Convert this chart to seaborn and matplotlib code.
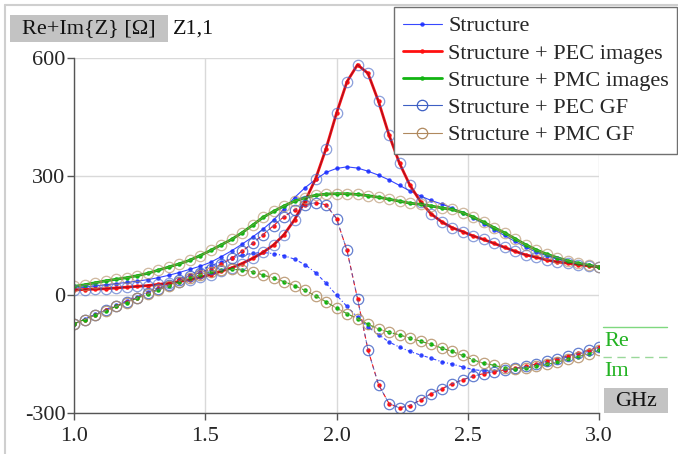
"""
Re+Im{Z} [Ω] Z1,1 — Structure vs images vs Green's function
"""

import matplotlib
matplotlib.use("Agg")
import matplotlib.pyplot as plt
from matplotlib.patches import Rectangle
from matplotlib.lines import Line2D
from matplotlib.ticker import FormatStrFormatter
import seaborn as sns

sns.set_style("white")
plt.rcParams["font.family"] = ["Liberation Serif", "DejaVu Serif"]
plt.rcParams["axes.unicode_minus"] = False

# ---- data (GHz, Ohm) ----
freq = [1.00, 1.04, 1.08, 1.12, 1.16, 1.20, 1.24, 1.28, 1.32, 1.36,
        1.40, 1.44, 1.48, 1.52, 1.56, 1.60, 1.64, 1.68, 1.72, 1.76,
        1.80, 1.84, 1.88, 1.92, 1.96, 2.00, 2.04, 2.08, 2.12, 2.16,
        2.20, 2.24, 2.28, 2.32, 2.36, 2.40, 2.44, 2.48, 2.52, 2.56,
        2.60, 2.64, 2.68, 2.72, 2.76, 2.80, 2.84, 2.88, 2.92, 2.96, 3.00]

struct_re = [16, 19, 22, 25, 28, 31, 34, 38, 43, 49,
             56, 64, 72, 82, 96, 111, 128, 146, 166, 189,
             217, 246, 271, 292, 310, 320, 324, 321, 313, 303,
             291, 277, 263, 250, 239, 230, 220, 208, 194, 180,
             165, 150, 135, 121, 108, 99, 90, 83, 78, 74, 70]
struct_im = [-74, -62, -50, -38, -27, -16, -5, 6, 17, 28,
             40, 51, 62, 73, 83, 92, 100, 105, 107, 104,
             99, 90, 76, 56, 29, -1, -30, -57, -82, -101,
             -120, -133, -144, -153, -161, -170, -176, -183, -190, -193,
             -193, -191, -188, -184, -179, -173, -166, -158, -151, -144, -137]

pec_re = [12, 13, 14, 15, 17, 19, 21, 23, 26, 29,
          33, 38, 44, 51, 59, 68, 79, 92, 107, 126,
          152, 190, 237, 293, 370, 460, 540, 583, 561, 490,
          405, 333, 277, 236, 205, 185, 170, 160, 149, 140,
          130, 120, 110, 101, 95, 88, 83, 80, 76, 73, 70]
pec_im = [-74, -63, -51, -40, -29, -18, -8, 3, 14, 25,
          36, 47, 56, 65, 77, 92, 110, 130, 152, 175,
          198, 215, 228, 233, 228, 193, 112, -10, -140, -228,
          -276, -287, -281, -267, -251, -239, -226, -216, -207, -200,
          -195, -191, -187, -182, -176, -169, -162, -155, -148, -141, -133]

pmc_re = [21, 25, 30, 35, 39, 43, 48, 54, 62, 70,
          78, 87, 99, 112, 126, 140, 157, 176, 196, 211,
          225, 237, 246, 252, 255, 256, 256, 254, 251, 247,
          242, 237, 232, 229, 225, 220, 216, 208, 197, 184,
          170, 157, 142, 127, 114, 103, 94, 86, 80, 75, 70]
pmc_im = [-74, -63, -52, -41, -30, -20, -9, 1, 12, 22,
          33, 42, 50, 58, 62, 64, 63, 58, 50, 42,
          33, 23, 11, -3, -18, -34, -48, -61, -75, -87,
          -95, -102, -110, -118, -126, -135, -144, -154, -165, -174,
          -179, -186, -188, -186, -182, -177, -171, -164, -157, -150, -141]

# Green's function results coincide with the image solutions
pec_gf_re, pec_gf_im = pec_re, pec_im
pmc_gf_re, pmc_gf_im = pmc_re, pmc_im

x_ticks = [1.0, 1.5, 2.0, 2.5, 3.0]
y_ticks = [-300, 0, 300, 600]

BLUE = "#1428ff"
RED = "#ff1010"
GREEN = "#12b412"
GF_BLUE = "#3d5fc4"
GF_BROWN = "#b0895e"
FS = 16

fig = plt.figure(figsize=(6.78, 4.54), dpi=100)
ax = fig.add_axes([74 / 678, 1 - 413 / 454, 525 / 678, 355 / 454])

dot = dict(marker="o", markersize=3.2, markeredgewidth=0)
circ = dict(marker="o", markersize=7.5, markerfacecolor="none", markeredgewidth=0.9)

# Structure
sns.lineplot(x=freq, y=struct_re, ax=ax, color=BLUE, lw=0.8, alpha=0.85,
             markerfacecolor=BLUE, label="Structure", **dot)
sns.lineplot(x=freq, y=struct_im, ax=ax, color=BLUE, lw=0.8, alpha=0.85,
             linestyle=(0, (3, 2, 1, 2)), markerfacecolor=BLUE, **dot)
# images
sns.lineplot(x=freq, y=pec_re, ax=ax, color=RED, lw=2.0,
             markerfacecolor=RED, label="Structure + PEC images", **dot)
sns.lineplot(x=freq, y=pec_im, ax=ax, color=RED, lw=0.8, linestyle=(0, (4, 3)),
             markerfacecolor=RED, **dot)
sns.lineplot(x=freq, y=pmc_re, ax=ax, color=GREEN, lw=2.0,
             markerfacecolor=GREEN, label="Structure + PMC images", **dot)
sns.lineplot(x=freq, y=pmc_im, ax=ax, color=GREEN, lw=0.8, linestyle=(0, (4, 3)),
             markerfacecolor=GREEN, **dot)
# Green's function
sns.lineplot(x=freq, y=pec_gf_re, ax=ax, color="#6a1030", lw=0.8, alpha=0.6,
             markeredgecolor=GF_BLUE, label="Structure + PEC GF", **circ)
sns.lineplot(x=freq, y=pec_gf_im, ax=ax, color=GF_BLUE, lw=0.7, alpha=0.8,
             linestyle=(3, (4, 3)), markeredgecolor=GF_BLUE, **circ)
sns.lineplot(x=freq, y=pmc_gf_re, ax=ax, color=GF_BROWN, lw=0.6, alpha=0.6,
             markeredgecolor=GF_BROWN, label="Structure + PMC GF", **circ)
sns.lineplot(x=freq, y=pmc_gf_im, ax=ax, color=GF_BROWN, lw=0.7, alpha=0.8,
             linestyle=(3, (4, 3)), markeredgecolor=GF_BROWN, **circ)

ax.set_xlim(1.0, 3.0)
ax.set_ylim(-300, 600)
ax.set_xticks(x_ticks)
ax.set_yticks(y_ticks)
ax.xaxis.set_major_formatter(FormatStrFormatter("%.1f"))
ax.yaxis.set_major_formatter(FormatStrFormatter("%d"))
ax.set_xlabel("")
ax.set_ylabel("")
ax.grid(True, color="#d9d9d9", lw=1.0)
ax.set_axisbelow(True)
for s in ["top", "right"]:
    ax.spines[s].set_visible(False)
for s in ["left", "bottom"]:
    ax.spines[s].set_color("#555555")
    ax.spines[s].set_linewidth(1.0)
ax.tick_params(direction="out", length=5, width=1, color="#555555",
               labelsize=FS, pad=1, left=True, bottom=True)
ax.tick_params(axis="x", pad=5)

# legend
handles = [
    Line2D([], [], color=BLUE, lw=0.8, alpha=0.85, **dot),
    Line2D([], [], color=RED, lw=2.0, **dot),
    Line2D([], [], color=GREEN, lw=2.0, **dot),
    Line2D([], [], color=GF_BLUE, lw=0.8, markeredgecolor=GF_BLUE, **circ),
    Line2D([], [], color=GF_BROWN, lw=0.8, markeredgecolor=GF_BROWN, **circ),
]
labels = ["Structure", "Structure + PEC images", "Structure + PMC images",
          "Structure + PEC GF", "Structure + PMC GF"]
leg = ax.legend(handles, labels, loc="upper left",
                bbox_to_anchor=(394 / 678, 0.2, 283 / 678, 1 - 7 / 454 - 0.2),
                bbox_transform=fig.transFigure, mode="expand",
                fontsize=FS, frameon=True, fancybox=False, framealpha=1,
                edgecolor="#707070", borderpad=0.4, labelspacing=0.3,
                handlelength=1.75, handletextpad=0.3, borderaxespad=0)
leg.get_frame().set_linewidth(1.0)

# figure frame (top and left)
fig.add_artist(Line2D([5 / 678, 1], [1 - 5 / 454] * 2, transform=fig.transFigure,
                      color="#cfcfcf", lw=1.5))
fig.add_artist(Line2D([5 / 678] * 2, [0, 1 - 5 / 454], transform=fig.transFigure,
                      color="#cfcfcf", lw=1.5))

# header box
fig.add_artist(Rectangle((10 / 678, 1 - 42 / 454), 158 / 678, 27 / 454,
                         transform=fig.transFigure, facecolor="#c3c3c3",
                         edgecolor="none"))
fig.text(89 / 678, 1 - 29 / 454, "Re+Im{Z} [Ω]", ha="center", va="center",
         fontsize=FS, color="#111111")
fig.text(173 / 678, 1 - 29 / 454, "Z1,1", ha="left", va="center",
         fontsize=FS, color="#111111")

# Re / Im key and unit box
fig.add_artist(Line2D([603 / 678, 667 / 678], [1 - 327 / 454] * 2,
                      transform=fig.transFigure, color="#7fd87f", lw=1.0))
fig.add_artist(Line2D([603 / 678, 667 / 678], [1 - 357 / 454] * 2,
                      transform=fig.transFigure, color="#9ad89a", lw=1.0,
                      linestyle=(0, (6, 4))))
fig.text(604 / 678, 1 - 341 / 454, "Re", ha="left", va="center",
         fontsize=FS, color="#22b322")
fig.text(604 / 678, 1 - 371 / 454, "Im", ha="left", va="center",
         fontsize=FS, color="#22b322")
fig.add_artist(Rectangle((604 / 678, 1 - 413 / 454), 64 / 678, 25 / 454,
                         transform=fig.transFigure, facecolor="#c3c3c3",
                         edgecolor="none"))
fig.text(636 / 678, 1 - 401 / 454, "GHz", ha="center", va="center",
         fontsize=FS, color="#111111")

fig.savefig("out.png", dpi=100)
plt.close(fig)
